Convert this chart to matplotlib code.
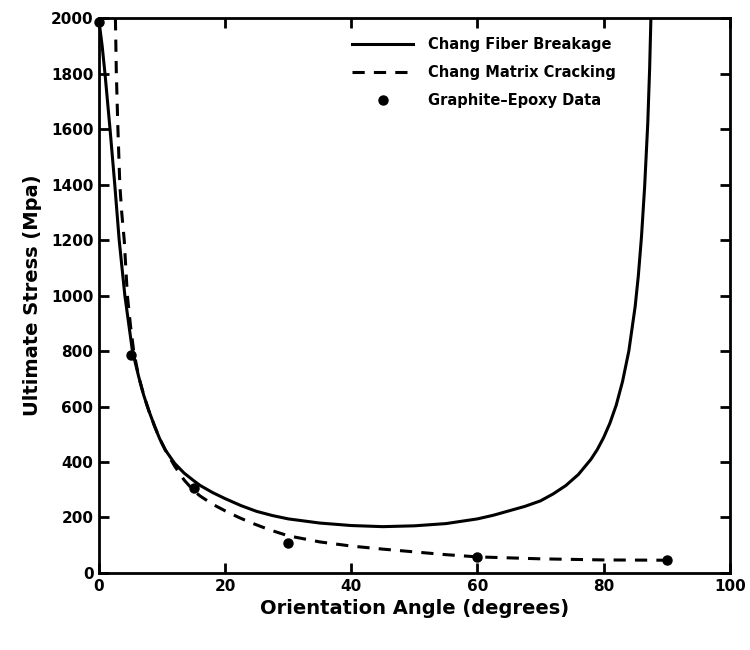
import matplotlib
matplotlib.use("Agg")
import matplotlib.pyplot as plt
from matplotlib.legend_handler import HandlerLine2D

# Chang fiber breakage (solid)
fiber_angle = [0, 0.5, 0.95, 1.75, 2.5, 3.2, 4.1, 5.3, 6.3, 7.1, 7.9, 8.8, 9.6, 10.5, 12, 13.5, 15,
               16, 18, 20, 22.5, 25, 27.5, 30, 35, 40, 45, 50, 55, 60, 62.5, 65, 67.5, 70,
               72, 74, 76, 78, 79, 80, 81, 82, 83, 84, 85, 85.5, 86, 86.5, 87, 87.3, 87.5]
fiber_stress = [1990, 1900, 1800, 1600, 1400, 1200, 1000, 800, 707, 640, 585, 530, 485, 444, 395, 360, 333,
                316, 290, 268, 243, 222, 207, 195, 180, 171, 167, 170, 178, 195, 208, 224, 240, 260,
                285, 315, 355, 410, 445, 488, 540, 605, 690, 800, 960, 1070, 1210, 1390, 1620, 1820, 2000]

# Chang matrix cracking (dashed)
matrix_angle = [2.6, 2.75, 3.0, 3.3, 3.6, 4.0, 4.5, 5.0, 5.5, 6.3, 7.1, 7.9, 8.8, 9.6, 10.5, 12,
                13.5, 15, 16, 18, 20, 22, 24, 27, 30, 35, 40, 45, 50, 55, 60, 70, 80, 90]
matrix_stress = [2000, 1800, 1600, 1400, 1300, 1200, 1000, 890, 800, 707, 640, 585, 530, 485, 444, 385,
                 335, 297, 278, 248, 224, 202, 182, 156, 134, 112, 97, 86, 76, 66, 58, 51, 47, 46]

# Graphite-epoxy data
data_angle = [0, 5, 15, 30, 60, 90]
data_stress = [1985, 785, 307, 109, 59, 47]

xticks = [0, 20, 40, 60, 80, 100]
yticks = [0, 200, 400, 600, 800, 1000, 1200, 1400, 1600, 1800, 2000]

plt.rcParams['font.family'] = ['DejaVu Sans']
plt.rcParams['font.weight'] = 'bold'

fig = plt.figure(figsize=(7.5, 6.5), dpi=100)
ax = fig.add_axes([0.132, 0.1185, 0.841, 0.8535])

l1, = ax.plot(fiber_angle, fiber_stress, color='black', lw=2.2, ls='-',
              label='Chang Fiber Breakage', solid_joinstyle='round')
l2, = ax.plot(matrix_angle, matrix_stress, color='black', lw=2.2, ls=(0, (4, 3)),
              label='Chang Matrix Cracking')
l3, = ax.plot(data_angle, data_stress, 'o', color='black', ms=6.5,
              label='Graphite\u2013Epoxy Data', clip_on=False, zorder=5)

ax.set_xlim(0, 100)
ax.set_ylim(0, 2000)
ax.set_xticks(xticks)
ax.set_yticks(yticks)
ax.tick_params(direction='in', length=7, width=2, top=True, right=True,
               labelsize=11, pad=4)
for lab in ax.get_xticklabels() + ax.get_yticklabels():
    lab.set_fontweight('bold')
for s in ax.spines.values():
    s.set_linewidth(2)

ax.set_xlabel('Orientation Angle (degrees)', fontsize=14, fontweight='bold', labelpad=4)
ax.set_ylabel('Ultimate Stress (Mpa)', fontsize=14, fontweight='bold', labelpad=6)


class RightMarker(HandlerLine2D):
    def get_xdata(self, legend, xdescent, ydescent, width, height, fontsize):
        xdata = [-xdescent, -xdescent + width]
        return xdata, [-xdescent + width - 4]


leg = ax.legend(handles=[l1, l2, l3], loc='upper right', bbox_to_anchor=(0.84, 0.99),
                frameon=False, fontsize=10.5, handlelength=4.2, handletextpad=1.0,
                labelspacing=0.9, numpoints=1,
                handler_map={l3: RightMarker(numpoints=1)})
for t in leg.get_texts():
    t.set_fontweight('bold')

fig.savefig('out.png', dpi=100)
